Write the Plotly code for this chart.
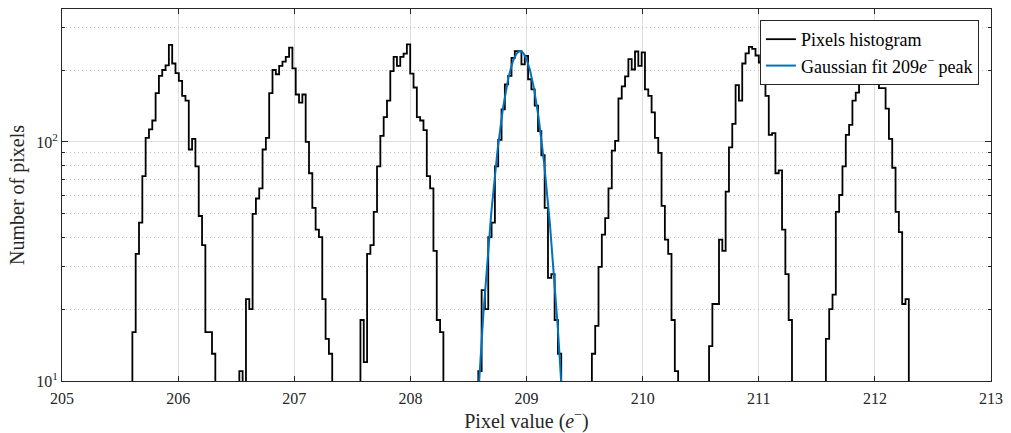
import numpy as np
import plotly.graph_objects as go

# ---- data ----
bin_width = 1.0 / 35.0  # e-
peak_labels = ["206", "207", "208", "209", "210", "211", "212"]
peak_starts = [205.606, 206.527, 207.570, 208.585, 209.563, 210.572, 211.578]

counts_206 = [16, 34, 46, 72, 104, 113, 123, 160, 189, 200, 209, 255, 213, 194, 180, 156, 149, 93, 103, 79, 49, 37, 16, 16, 13]
counts_207 = [11, 0, 22, 20, 50, 58, 64, 93, 104, 160, 200, 192, 208, 217, 227, 248, 203, 158, 146, 158, 100, 74, 53, 43, 40, 22, 15, 13]
counts_208 = [18, 12, 34, 37, 51, 79, 106, 127, 149, 198, 227, 208, 227, 234, 256, 193, 169, 127, 123, 112, 72, 64, 35, 18, 16]
counts_209 = [11, 24, 20, 40, 46, 79, 102, 137, 174, 189, 225, 240, 240, 211, 229, 183, 166, 142, 111, 88, 53, 27, 28, 18, 13]
counts_210 = [13, 17, 30, 41, 48, 64, 92, 101, 152, 171, 188, 222, 201, 239, 208, 237, 166, 156, 133, 104, 90, 54, 39, 34, 18, 11]
counts_211 = [14, 21, 21, 39, 35, 62, 95, 119, 173, 149, 213, 235, 250, 245, 230, 215, 197, 156, 107, 109, 74, 76, 43, 28, 18]
counts_212 = [15, 20, 23, 51, 60, 79, 107, 118, 149, 161, 200, 230, 250, 240, 205, 198, 168, 168, 138, 103, 78, 51, 42, 21, 22]
peak_counts = [counts_206, counts_207, counts_208, counts_209, counts_210, counts_211, counts_212]

# Gaussian fit of the 209 e- peak
fit_amplitude = 240.0
fit_mean = 208.945
fit_sigma = 0.1406
fit_x_range = [208.55, 209.33]

x_ticks = [205, 206, 207, 208, 209, 210, 211, 212, 213]
y_ticks = [10, 100]
y_tick_text = ["10<sup>1</sup>", "10<sup>2</sup>"]
y_minor = [20, 30, 40, 50, 60, 70, 80, 90, 200, 300]
y_limits = [10, 360]

# ---- build stair outline (histogram) ----
floor = 1.0  # below visible range on the log axis (empty bins)
hx, hy = [], []
for start, cnts in zip(peak_starts, peak_counts):
    n = len(cnts)
    edges = [start + k * bin_width for k in range(n + 1)]
    hx.append(edges[0]); hy.append(floor)
    for k in range(n):
        hx.append(edges[k]); hy.append(max(cnts[k], floor))
    hx.append(edges[n]); hy.append(floor)
    hx.append(None); hy.append(None)

fx = np.linspace(fit_x_range[0], fit_x_range[1], 400)
fy = fit_amplitude * np.exp(-((fx - fit_mean) ** 2) / (2 * fit_sigma ** 2))

FONT = "Liberation Serif"
AX = "#262626"
yrange = [np.log10(y_limits[0]), np.log10(y_limits[1])]

fig = go.Figure()
# helper trace to activate the minor-grid overlay axis (no visible marks)
fig.add_trace(go.Scatter(x=[None], y=[None], yaxis="y2", showlegend=False, hoverinfo="skip"))
fig.add_trace(go.Scatter(x=hx, y=hy, mode="lines", line=dict(color="black", width=1.8, shape="hv"),
                         name="Pixels histogram", connectgaps=False))
fig.add_trace(go.Scatter(x=fx, y=fy, mode="lines", line=dict(color="#0072BD", width=2),
                         name="Gaussian fit 209<i>e</i><sup>−</sup> peak"))

fig.update_layout(
    width=1011, height=433, autosize=False,
    margin=dict(l=62, r=13, t=8, b=52, pad=0),
    paper_bgcolor="white", plot_bgcolor="white",
    font=dict(family=FONT, size=16, color=AX),
    showlegend=True,
    legend=dict(x=0.987, y=0.9705, xanchor="right", yanchor="top",
                bgcolor="white", bordercolor=AX, borderwidth=1,
                font=dict(family=FONT, size=18, color="black"),
                tracegroupgap=0, itemwidth=30),
    xaxis=dict(
        range=[205, 213], tickmode="array", tickvals=x_ticks,
        ticks="inside", ticklen=5, tickcolor=AX,
        showline=True, linecolor=AX, linewidth=1, mirror="ticks",
        showgrid=True, gridcolor="#dedede", gridwidth=1, zeroline=False,
        title=dict(text="Pixel value (<i>e</i><sup>−</sup>)", font=dict(size=20), standoff=2),
        ticklabelstandoff=3,
    ),
    yaxis=dict(
        type="log", range=yrange,
        tickmode="array", tickvals=y_ticks, ticktext=y_tick_text,
        ticks="inside", ticklen=6, tickcolor=AX,
        showline=True, linecolor=AX, linewidth=1, mirror="ticks",
        showgrid=True, gridcolor="#dedede", gridwidth=1, zeroline=False,
        title=dict(text="Number of pixels", font=dict(size=20), standoff=6),
    ),
    yaxis2=dict(
        type="log", range=yrange, overlaying="y", side="left",
        tickmode="array", tickvals=y_minor, showticklabels=False,
        ticks="inside", ticklen=3, tickcolor=AX,
        showline=True, linecolor=AX, linewidth=1, mirror="ticks",
        showgrid=True, gridcolor="#bdbdbd", griddash="1px,3px", gridwidth=1, zeroline=False,
        layer="below traces",
    ),
)

fig.write_html("out.html", config={"displayModeBar": False},
               post_script="document.body.style.margin='0';document.body.style.overflow='hidden';")
